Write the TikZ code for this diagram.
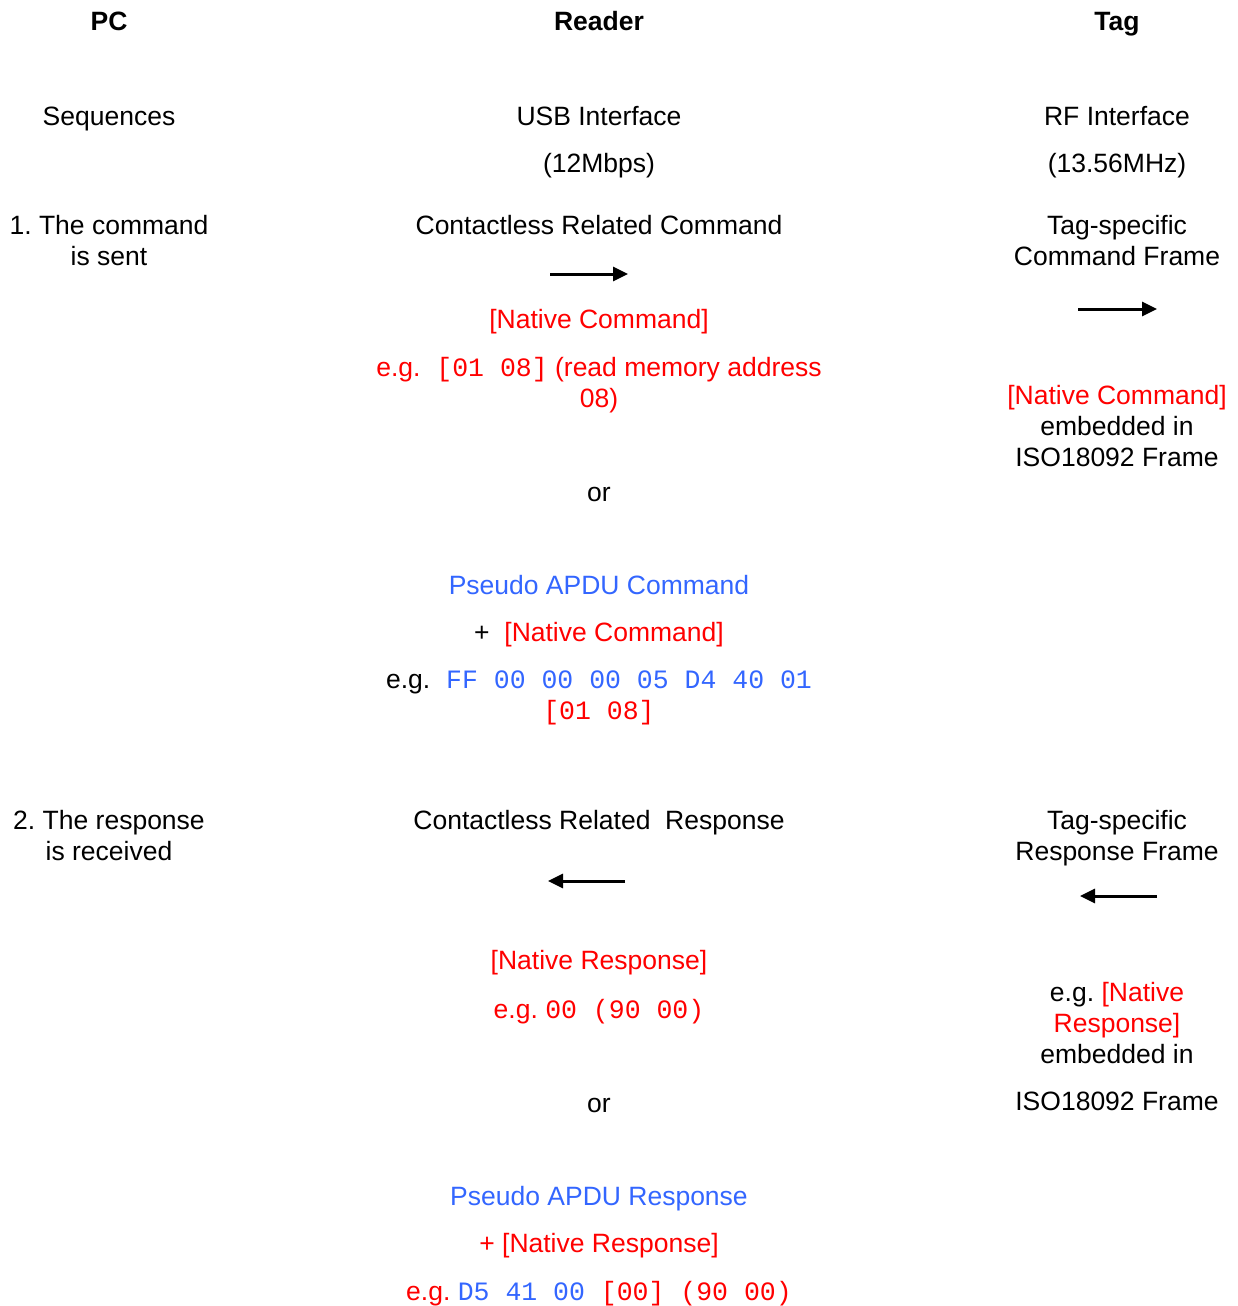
\documentclass[tikz,border=0pt]{standalone}
\usepackage{fontspec}
\setmainfont{Liberation Sans}
\setmonofont{Liberation Mono}
\usetikzlibrary{arrows.meta}
\definecolor{nativered}{RGB}{255,0,0}
\definecolor{apdublue}{RGB}{51,102,255}
\frenchspacing

\begin{document}
\begin{tikzpicture}[x=0.5pt, y=-0.5pt,
	txt/.style={anchor=base, inner sep=0pt, align=center, font=\fontsize{13.25pt}{15.5pt}\selectfont},
	head/.style={txt, font=\fontsize{13.25pt}{15.5pt}\selectfont\bfseries},
	native/.style={txt, text=nativered},
	apdu/.style={txt, text=apdublue},
	flow/.style={-{Triangle[length=7.5pt, width=7pt]}, line width=1.5pt}]
	\useasboundingbox (0,0) rectangle (1237,1306);
	% Column headings
	\node[head] (pc) at (109,31) {PC};
	\node[head] (reader) at (599,31) {Reader};
	\node[head] (tag) at (1117,31) {Tag};
	% Interfaces (multi-line nodes sit on their last line)
	\node[txt] (seq) at (109,125) {Sequences};
	\node[txt] (usb) at (599,172) {USB Interface\\[8pt](12Mbps)};
	\node[txt] (rf) at (1117,172) {RF Interface\\[8pt](13.56MHz)};
	% 1. Command
	\node[txt] (step1) at (109,265) {1. The command\\is sent};
	\node[txt] (ccmd) at (599,234) {Contactless Related Command};
	\node[txt] (tcmd) at (1117,265) {Tag-specific\\Command Frame};
	\coordinate (cmdRa) at (550,274);
	\coordinate (cmdRb) at (628,274);
	\coordinate (cmdTa) at (1078,309);
	\coordinate (cmdTb) at (1157,309);
	\draw[flow] (cmdRa) -- (cmdRb);
	\draw[flow] (cmdTa) -- (cmdTb);
	\node[native] (ncmd) at (599,328) {[Native Command]};
	\node[native] (egcmd) at (599,407) {e.g.\texttt{ [01 08]} (read memory address\\08)};
	\node[txt] (tframe) at (1117,466) {\textcolor{nativered}{[Native Command]}\\embedded in\\ISO18092 Frame};
	\node[txt] (or1) at (599,501) {or};
	\node[apdu] (pcmd) at (599,594) {Pseudo APDU Command};
	\node[txt] (pluscmd) at (599,641) {+~ \textcolor{nativered}{[Native Command]}};
	\node[txt] (egpcmd) at (599,719) {e.g.\texttt{ \textcolor{apdublue}{FF 00 00 00 05 D4 40 01}}\\\texttt{\textcolor{nativered}{[01 08]}}};
	% 2. Response
	\node[txt] (step2) at (109,860) {2. The response\\is received};
	\node[txt] (crsp) at (599,829) {Contactless Related~ Response};
	\node[txt] (trsp) at (1117,860) {Tag-specific\\Response Frame};
	\coordinate (rspRa) at (625,881);
	\coordinate (rspRb) at (548,881);
	\coordinate (rspTa) at (1157,896);
	\coordinate (rspTb) at (1080,896);
	\draw[flow] (rspRa) -- (rspRb);
	\draw[flow] (rspTa) -- (rspTb);
	\node[native] (nrsp) at (599,969) {[Native Response]};
	\node[native] (egrsp) at (599,1018) {e.g. \texttt{00 (90 00)}};
	\node[txt] (tframe2) at (1117,1110) {e.g. \textcolor{nativered}{[Native}\\\textcolor{nativered}{Response]}\\embedded in\\[8pt]ISO18092 Frame};
	\node[txt] (or2) at (599,1112) {or};
	\node[apdu] (prsp) at (599,1205) {Pseudo APDU Response};
	\node[native] (plusrsp) at (599,1252) {+ [Native Response]};
	\node[native] (egprsp) at (599,1300) {e.g. \texttt{\textcolor{apdublue}{D5 41 00} [00] (90 00)}};
\end{tikzpicture}
\end{document}
